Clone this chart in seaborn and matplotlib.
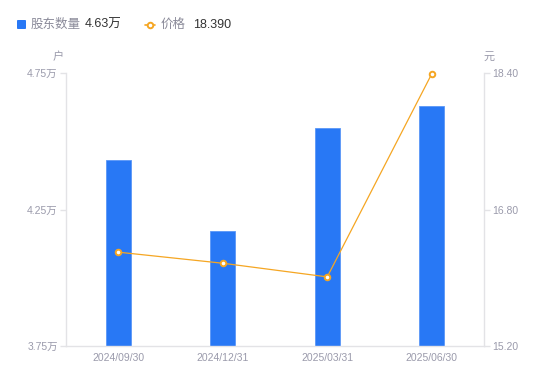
import matplotlib
matplotlib.use("Agg")
import matplotlib.pyplot as plt
import seaborn as sns
import pandas as pd
import numpy as np

dates = ["2024/09/30", "2024/12/31", "2025/03/31", "2025/06/30"]
holders = [4.43, 4.17, 4.55, 4.63]   # 万户
price = [16.30, 16.17, 16.01, 18.39]  # 元
left_ticks = [3.75, 4.25, 4.75]
left_labels = ["3.75万", "4.25万", "4.75万"]
right_ticks = [15.20, 16.80, 18.40]
right_labels = ["15.20", "16.80", "18.40"]

sns.set_theme(style="white")
plt.rcParams["font.family"] = ["Liberation Sans", "Noto Sans CJK SC", "DejaVu Sans"]

BLUE = "#2878F5"
ORANGE = "#F5A623"
TICK = "#9A9AAB"
AXIS = "#E3E3E6"

df = pd.DataFrame({"date": dates, "holders": holders, "price": price})

fig = plt.figure(figsize=(5.5, 3.81), dpi=100)
ax = fig.add_axes([66 / 550, 1 - 346 / 381, (484 - 66) / 550, (346 - 73) / 381])

sns.barplot(data=df, x="date", y="holders", color=BLUE, width=0.24,
            saturation=1, ax=ax, edgecolor="#5A97F7", linewidth=0.6)
ax.set_ylim(3.75, 4.75)
ax.set_yticks(left_ticks)
ax.set_yticklabels(left_labels)
ax.set_xlim(-0.5, 3.5)
ax.set_xlabel("")
ax.set_ylabel("")

ax2 = ax.twinx()
sns.pointplot(data=df, x="date", y="price", color=ORANGE, ax=ax2,
              markers="o", linewidth=0.9, markersize=4,
              markerfacecolor="white", markeredgecolor=ORANGE,
              markeredgewidth=1.4, clip_on=False)
ax2.set_ylim(15.20, 18.40)
ax2.set_yticks(right_ticks)
ax2.set_yticklabels(right_labels)
ax2.set_xlim(-0.5, 3.5)
ax2.set_xlabel("")
ax2.set_ylabel("")
for ln in ax2.lines:
    ln.set_clip_on(False)

for a in (ax, ax2):
    for s in a.spines.values():
        s.set_visible(False)

ax.spines["left"].set_visible(True)
ax.spines["left"].set_color(AXIS)
ax.spines["bottom"].set_visible(True)
ax.spines["bottom"].set_color(AXIS)
ax2.spines["right"].set_visible(True)
ax2.spines["right"].set_color(AXIS)
for sp in (ax.spines["left"], ax.spines["bottom"], ax2.spines["right"]):
    sp.set_linewidth(1.0)

ax.tick_params(axis="y", colors=AXIS, labelcolor=TICK, labelsize=7.5, length=4, width=1, pad=2, left=True)
ax.tick_params(axis="x", colors=AXIS, labelcolor=TICK, labelsize=7.5, length=0, pad=5)
ax2.tick_params(axis="y", colors=AXIS, labelcolor=TICK, labelsize=7.5, length=4, width=1, pad=2, right=True)

fig.text(58 / 550, 1 - 57 / 381, "户", color=TICK, fontsize=8, ha="center", va="center")
fig.text(489 / 550, 1 - 57 / 381, "元", color=TICK, fontsize=8, ha="center", va="center")

# legend-like header
fig.patches.append(matplotlib.patches.FancyBboxPatch(
    (17 / 550, 1 - 29 / 381), 9 / 550, 9 / 381, boxstyle="round,pad=0,rounding_size=0.002",
    transform=fig.transFigure, facecolor=BLUE, edgecolor="none"))
fig.text(31 / 550, 1 - 24.5 / 381, "股东数量", color="#8A8A99", fontsize=9, va="center")
fig.text(85 / 550, 1 - 24.5 / 381, "4.63万", color="#333333", fontsize=9, va="center")
fig.lines.append(matplotlib.lines.Line2D([145 / 550, 155 / 550], [1 - 24.5 / 381] * 2,
                                         transform=fig.transFigure, color=ORANGE, linewidth=1.2))
fig.lines.append(matplotlib.lines.Line2D([150 / 550], [1 - 24.5 / 381], transform=fig.transFigure,
                                         marker="o", markersize=4, markerfacecolor="white",
                                         markeredgecolor=ORANGE, markeredgewidth=1.4, linestyle="none"))
fig.text(161 / 550, 1 - 24.5 / 381, "价格", color="#8A8A99", fontsize=9, va="center")
fig.text(193 / 550, 1 - 24.5 / 381, "18.390", color="#333333", fontsize=9, va="center")

fig.savefig("out.png", dpi=100)
